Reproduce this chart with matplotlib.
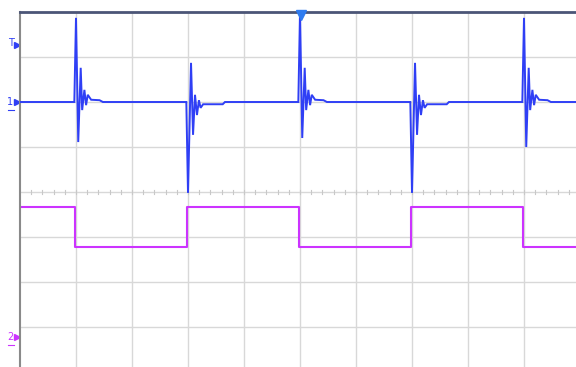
import numpy as np
import matplotlib.pyplot as plt

# scope screen: 10 x 8 divisions, values below are in divisions
edge_times = [1.0, 3.0, 5.0, 7.0, 9.0]
edge_dir = [1, -1, 1, -1, 1]          # ch1 spike direction at each edge

ch1_level = 2.0
# ringing after a rising edge (time offset, level)
up_dt = [-0.03, 0.0, 0.04, 0.084, 0.11, 0.15, 0.18, 0.21, 0.27, 0.42, 0.48]
up_v = [2.0, 3.87, 1.11, 2.76, 1.82, 2.27, 1.93, 2.16, 2.05, 2.04, 2.0]
up_peak = [3.87, 3.98, 3.87]
up_trough = [1.11, 1.2, 1.0]
# ringing after a falling edge
dn_dt = [-0.03, 0.0, 0.054, 0.09, 0.125, 0.16, 0.195, 0.225, 0.27, 0.62, 0.66]
dn_v = [2.0, -0.02, 2.87, 1.27, 2.16, 1.71, 2.04, 1.87, 1.95, 1.95, 2.0]

ch2_high = -0.33
ch2_low = -1.22
ch2_edges = [0.98, 2.98, 4.98, 6.98, 8.98]

x_max = 556 / 56
y_top = 4.0
y_bot = 4.0 - 355 / 45

blue = '#2f3ff5'
magenta = '#cc33ff'
grid_c = '#d8d8d8'

fig = plt.figure(figsize=(5.76, 3.67), dpi=100)
ax = fig.add_axes([20 / 576, 0, 556 / 576, 355 / 367])
ax.set_xlim(0, x_max)
ax.set_ylim(y_bot, y_top)
ax.set_xticks([])
ax.set_yticks([])
for s in ['right', 'bottom']:
    ax.spines[s].set_visible(False)
ax.spines['top'].set_color('#4b5577')
ax.spines['top'].set_linewidth(2)
ax.spines['left'].set_color('#8a8a8a')
ax.spines['left'].set_linewidth(1.5)

# graticule
for gx in range(1, 10):
    ax.axvline(gx, color=grid_c, lw=1, zorder=0)
for gy in range(-3, 4):
    ax.axhline(gy, color=grid_c, lw=1, zorder=0)
for m in np.arange(0.2, x_max, 0.2):
    ax.plot([m, m], [-0.05, 0.05], color='#c8c8c8', lw=0.8, zorder=0)

# channel 1 trace
t = [0.0]
v = [ch1_level]
k_up = 0
for e, d in zip(edge_times, edge_dir):
    if d > 0:
        vals = list(up_v)
        vals[1] = up_peak[k_up]
        vals[2] = up_trough[k_up]
        k_up += 1
        t += [e + dt for dt in up_dt]
        v += vals
    else:
        t += [e + dt for dt in dn_dt]
        v += dn_v
t.append(x_max)
v.append(ch1_level)
ax.plot(t, v, color=blue, lw=1.4, solid_joinstyle='miter', zorder=3)

# channel 2 trace
t2 = [0.0] + ch2_edges + [x_max]
v2 = [ch2_high if i % 2 == 0 else ch2_low for i in range(len(t2))]
v2[-1] = v2[-2]
ax.plot(t2, v2, color=magenta, lw=1.5, drawstyle='steps-post', zorder=2)

# markers on the left edge and the trigger position
ch2_ref = (192 - 337) / 45
ax.plot(5.02, 3.93, marker='v', color='#2f7cf0', ms=7, clip_on=False, zorder=5)
ax.plot(-0.05, 3.27, marker='>', color=blue, ms=5, clip_on=False)
ax.text(-0.17, 3.3, 'T', color=blue, fontsize=7, ha='center', va='center')
ax.plot(-0.05, ch1_level, marker='>', color=blue, ms=5, clip_on=False)
ax.text(-0.17, ch1_level, '1', color=blue, fontsize=7, ha='center', va='center')
ax.plot([-0.22, -0.1], [ch1_level - 0.18] * 2, color=blue, lw=0.8, clip_on=False)
ax.plot(-0.05, ch2_ref, marker='>', color=magenta, ms=5, clip_on=False)
ax.text(-0.17, ch2_ref, '2', color=magenta, fontsize=7, ha='center', va='center')
ax.plot([-0.22, -0.1], [ch2_ref - 0.18] * 2, color=magenta, lw=0.8, clip_on=False)

fig.savefig('out.png', dpi=100)
